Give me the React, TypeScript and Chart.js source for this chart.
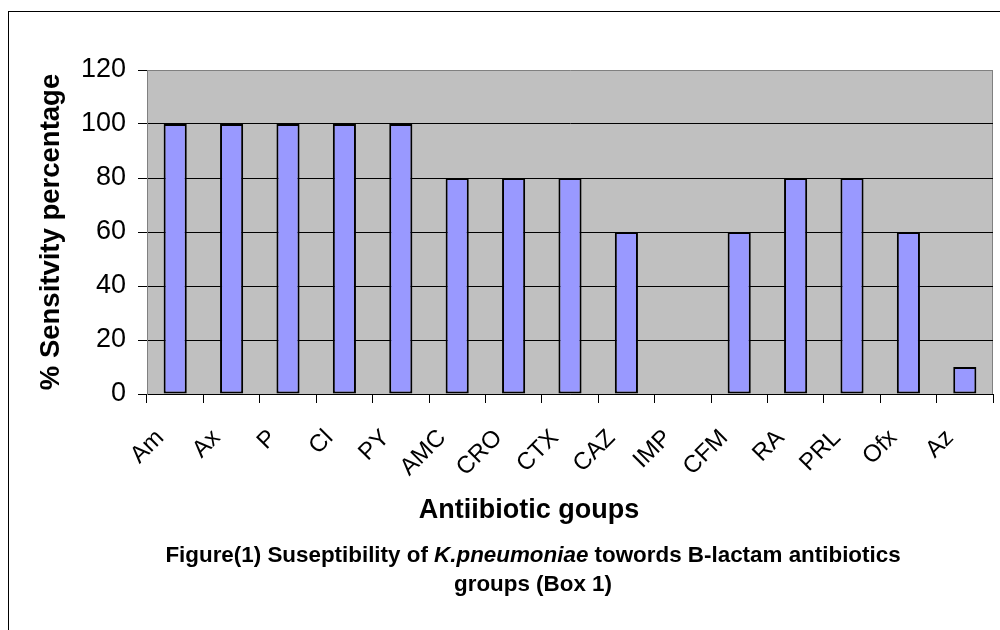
import React, { useEffect, useRef } from "react";
import { Chart, registerables } from "chart.js";

Chart.register(...registerables);

const categories = ["Am", "Ax", "P", "Cl", "PY", "AMC", "CRO", "CTX", "CAZ", "IMP", "CFM", "RA", "PRL", "Ofx", "Az"];
const sensitivity = [100, 100, 100, 100, 100, 80, 80, 80, 60, 0, 60, 80, 80, 60, 10];
const yTicks = [0, 20, 40, 60, 80, 100, 120];
const yTitle = "% Sensitvity percentage";
const xTitle = "Antiibiotic goups";
const captionPre = "Figure(1) Suseptibility of ";
const captionItalic = "K.pneumoniae";
const captionPost = " towords B-lactam antibiotics";
const captionLine2 = "groups (Box 1)";

const FONT = "'Liberation Sans', Arial, sans-serif";

const plotBg = {
  id: "plotBg",
  beforeDraw(chart: any) {
    const { ctx, chartArea } = chart;
    const { left, top, right, bottom } = chartArea;
    ctx.save();
    ctx.fillStyle = "#C0C0C0";
    ctx.fillRect(left, top, right - left, bottom - top);
    ctx.strokeStyle = "#808080";
    ctx.lineWidth = 1;
    ctx.beginPath();
    ctx.moveTo(Math.round(right) - 0.5, top);
    ctx.lineTo(Math.round(right) - 0.5, bottom);
    ctx.stroke();
    ctx.restore();
  },
};

export default function App() {
  const ref = useRef<HTMLCanvasElement | null>(null);

  useEffect(() => {
    if (!ref.current) return;
    const chart = new Chart(ref.current, {
      type: "bar",
      data: {
        labels: categories,
        datasets: [
          {
            data: sensitivity,
            backgroundColor: "#9999FF",
            borderColor: "#000000",
            borderWidth: 2,
            borderSkipped: false,
            barPercentage: 0.41,
            categoryPercentage: 1,
          },
        ],
      },
      options: {
        animation: false,
        responsive: true,
        maintainAspectRatio: false,
        layout: { padding: { left: 35, top: 70, right: 7, bottom: 0 } },
        plugins: { legend: { display: false }, tooltip: { enabled: false }, title: { display: false } },
        scales: {
          x: {
            afterFit: (s: any) => {
              s.height = 236;
              s.paddingLeft = 0;
              s.paddingRight = 0;
            },
            grid: { offset: true, drawOnChartArea: false, tickLength: 9, color: "#000000" },
            border: { color: "#000000", width: 1 },
            ticks: {
              minRotation: 45,
              maxRotation: 45,
              autoSkip: false,
              color: "#000000",
              padding: 21,
              labelOffset: -15,
              font: { family: FONT, size: 24 },
            },
          },
          y: {
            min: 0,
            max: 120,
            afterBuildTicks: (s: any) => {
              s.ticks = yTicks.map((v) => ({ value: v }));
            },
            afterFit: (s: any) => {
              s.width = 147 - 35;
              s.paddingTop = 0;
              s.paddingBottom = 0;
            },
            grid: {
              color: (c: any) => (c.tick && c.tick.value === 120 ? "#808080" : "#000000"),
              tickColor: "#000000",
              lineWidth: 1,
              tickLength: 9,
            },
            border: { color: "#808080", width: 1 },
            ticks: { color: "#000000", padding: 12, font: { family: FONT, size: 27 } },
            title: {
              display: true,
              text: yTitle,
              color: "#000000",
              padding: { top: 0, bottom: 0 },
              font: { family: FONT, size: 27.5, weight: "bold" },
            },
          },
        },
      },
      plugins: [plotBg],
    });
    return () => chart.destroy();
  }, []);

  return (
    <div
      style={{
        position: "absolute",
        left: 0,
        top: 0,
        width: 1000,
        height: 630,
        overflow: "hidden",
        background: "#ffffff",
        fontFamily: FONT,
      }}
    >
      <div
        style={{
          position: "absolute",
          left: 8,
          top: 11,
          width: 1200,
          height: 900,
          borderLeft: "1px solid #000",
          borderTop: "1px solid #000",
        }}
      />
      <div style={{ position: "absolute", left: 0, top: 0, width: 1000, height: 630 }}>
        <canvas ref={ref} />
      </div>
      <div
        style={{
          position: "absolute",
          left: 329,
          width: 400,
          top: 493,
          lineHeight: "32px",
          textAlign: "center",
          fontWeight: "bold",
          fontSize: 27,
          color: "#000",
          whiteSpace: "nowrap",
        }}
      >
        {xTitle}
      </div>
      <div
        style={{
          position: "absolute",
          left: 133,
          width: 800,
          top: 540,
          lineHeight: "29px",
          textAlign: "center",
          fontWeight: "bold",
          fontSize: 22.4,
          color: "#000",
          whiteSpace: "nowrap",
        }}
      >
        <div>
          {captionPre}
          <i>{captionItalic}</i>
          {captionPost}
        </div>
        <div>{captionLine2}</div>
      </div>
    </div>
  );
}
